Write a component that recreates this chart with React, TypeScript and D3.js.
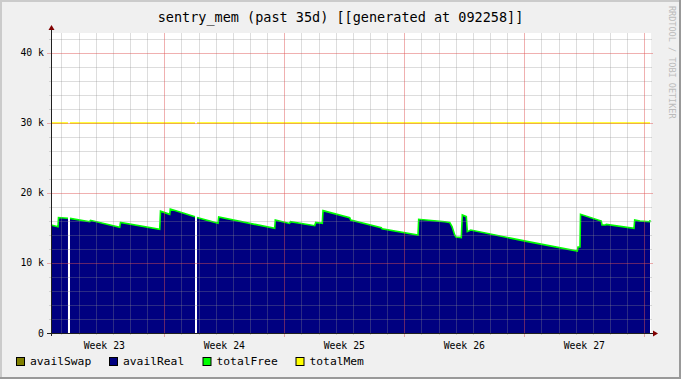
import React from 'react';
import * as d3 from 'd3';

const W = 681;
const H = 379;
const TITLE = 'sentry_mem (past 35d) [[generated at 092258]]';
const CREDIT = 'RRDTOOL / TOBI OETIKER';
const END_TIME = new Date(2009, 6, 6, 9, 22, 58);
const SPAN_DAYS = 35;

// days since window start
const DAYS = [
  0, 0.408, 0.4375, 0.99, 1.05, 1.108, 2.258, 2.304, 4.008, 4.054, 6.341, 6.3875, 6.924, 6.959, 8.4,
  8.46, 8.517, 9.742, 9.7825, 13.049, 13.084, 13.913, 13.971, 15.383, 15.441, 15.826, 15.867, 17.424,
  17.4825, 19.268, 19.308, 21.408, 21.449, 22.966, 23.258, 23.392, 23.549, 23.625, 23.934, 23.993,
  24.226, 24.284, 24.483, 27.825, 30.701, 30.742, 30.858, 30.888, 32.1, 32.142, 32.346, 32.393,
  34.008, 34.049, 34.358, 34.924, 34.942,
];
const AVAIL_REAL: (number | null)[] = [
  15430, 15190, 16500, 16400, null, 16380, 15900, 16100, 15100, 15800, 14800, 17400, 16950, 17700, 16600,
  null, 16500, 15670, 16570, 14950, 16140, 15650, 15900, 15330, 15800, 15670, 17480, 16480,
  16140, 15050, 14900, 14000, 16240, 15900, 15800, 15200, 14000, 13700, 13620, 16860,
  16620, 14480, 14710, 13050, 11710, 12290, 12290, 16950, 16000, 15430, 15430, 15520,
  14950, 16140, 16000, 15900, 16140,
];
const AVAIL_SWAP: (number | null)[] = AVAIL_REAL.map((v) => (v === null ? null : 0));
const TOTAL_FREE: (number | null)[] = [
  15430, 15190, 16500, 16400, null, 16380, 15900, 16100, 15100, 15800, 14800, 17400, 16950, 17700, 16600,
  null, 16500, 15670, 16570, 14950, 16140, 15650, 15900, 15330, 15800, 15670, 17480, 16480,
  16140, 15050, 14900, 14000, 16240, 15900, 15800, 15200, 14000, 13700, 13620, 16860,
  16620, 14480, 14710, 13050, 11710, 12290, 12290, 16950, 16000, 15430, 15430, 15520,
  14950, 16140, 16000, 15900, 16140,
];
const TOTAL_MEM: (number | null)[] = AVAIL_REAL.map((v) => (v === null ? null : 30000));

const Y_MAX = 42857;
const Y_MAJOR = [0, 10000, 20000, 30000, 40000];
const Y_LABELS = ['0', '10 k', '20 k', '30 k', '40 k'];
const Y_MINOR_STEP = 2000;

const LEGEND_NAMES = ['availSwap', 'availReal', 'totalFree', 'totalMem'];
const LEGEND_COLORS = ['#808000', '#000080', '#00ff00', '#ffff00'];
const LEGEND_X = [16, 109, 202.5, 295.5];

const FONT = "'DejaVu Sans Mono', monospace";

export default function App() {
  const left = 51, right = 651, top = 33, bottom = 333;
  const start = d3.timeDay.offset(END_TIME, -SPAN_DAYS);
  const x = d3.scaleTime().domain([start, END_TIME]).range([left, right]);
  const y = d3.scaleLinear().domain([0, Y_MAX]).range([bottom, top]);
  const t = (d: number) => new Date(start.getTime() + d * 86400000);

  const pts = DAYS.map((d, i) => ({ d, real: AVAIL_REAL[i], free: TOTAL_FREE[i], mem: TOTAL_MEM[i], swap: AVAIL_SWAP[i] }));
  const area = d3
    .area<any>()
    .defined((p) => p.real !== null)
    .x((p) => x(t(p.d)))
    .y0(() => y(0))
    .y1((p) => y(p.real));
  const lineFree = d3
    .line<any>()
    .defined((p) => p.free !== null)
    .x((p) => x(t(p.d)))
    .y((p) => y(p.free));
  const lineMem = d3
    .line<any>()
    .defined((p) => p.mem !== null)
    .x((p) => x(t(p.d)))
    .y((p) => y(p.mem));

  const days = d3.timeDay.range(d3.timeDay.ceil(start), END_TIME);
  const mondays = d3.timeMonday.range(d3.timeMonday.ceil(start), END_TIME);
  const weekStarts = d3.timeMonday.range(d3.timeMonday.floor(start), END_TIME);
  const weekFmt = d3.timeFormat('Week %V');
  const weekLabels = weekStarts
    .map((m) => ({ m, c: new Date(m.getTime() + 3.5 * 86400000) }))
    .filter((o) => o.c >= start && o.c <= END_TIME);

  const yMinor = d3.range(0, Y_MAX, Y_MINOR_STEP).filter((v) => v % 10000 !== 0);
  const isMonday = (d: Date) => mondays.some((m) => m.getTime() === d.getTime());

  const minorStroke = 'rgba(143,143,143,0.3)';
  const majorStroke = 'rgba(222,79,79,0.45)';

  return (
    <svg width={W} height={H} style={{ position: 'absolute', left: 0, top: 0, display: 'block' }}>
      <rect x={0} y={0} width={W} height={H} fill="#f0f0f0" />
      {/* frame */}
      <rect x={0} y={0} width={W} height={2} fill="#cbcbcb" />
      <rect x={0} y={0} width={2} height={H} fill="#cbcbcb" />
      <rect x={0} y={H - 2} width={W} height={2} fill="#999999" />
      <rect x={W - 2} y={0} width={2} height={H} fill="#999999" />

      <text x={W / 2} y={22} textAnchor="middle" fontFamily={FONT} fontSize={13.5} fill="#000">
        {TITLE}
      </text>
      <text
        transform={`translate(669,6) rotate(90)`}
        fontFamily={FONT}
        fontSize={8.5}
        fill="#bbbbbb"
      >
        {CREDIT}
      </text>

      <rect x={left} y={top} width={right - left} height={bottom - top} fill="#ffffff" />

      <path d={area(pts) || ''} fill={LEGEND_COLORS[1]} />
      <path d={lineFree(pts) || ''} fill="none" stroke={LEGEND_COLORS[2]} strokeWidth={1.6} />
      <path d={lineMem(pts) || ''} fill="none" stroke={LEGEND_COLORS[3]} strokeWidth={1.4} />

      {/* minor grid */}
      {yMinor.map((v) => (
        <line key={'hy' + v} x1={left - 2} x2={right + 1} y1={Math.round(y(v)) + 0.5} y2={Math.round(y(v)) + 0.5} stroke={minorStroke} />
      ))}
      {days
        .filter((d) => !isMonday(d))
        .map((d) => (
          <line key={'vx' + d.getTime()} x1={Math.round(x(d)) + 0.5} x2={Math.round(x(d)) + 0.5} y1={top} y2={bottom + 2} stroke={minorStroke} />
        ))}
      {/* major grid */}
      {Y_MAJOR.filter((v) => v > 0).map((v) => (
        <line key={'My' + v} x1={left - 4} x2={right + 2} y1={Math.round(y(v)) + 0.5} y2={Math.round(y(v)) + 0.5} stroke={majorStroke} />
      ))}
      {mondays.map((d) => (
        <line key={'Mx' + d.getTime()} x1={Math.round(x(d)) + 0.5} x2={Math.round(x(d)) + 0.5} y1={top} y2={bottom + 4} stroke={majorStroke} />
      ))}

      {/* axes */}
      <line x1={left - 4} x2={right + 3} y1={bottom + 0.5} y2={bottom + 0.5} stroke="#202020" />
      <line x1={left + 0.5} x2={left + 0.5} y1={bottom + 3} y2={top - 4} stroke="#202020" />
      <line x1={left - 4} x2={left} y1={bottom + 0.5} y2={bottom + 0.5} stroke="#202020" />
      <path d={`M${right + 7},${bottom + 0.5} L${right + 2},${bottom - 2.5} L${right + 2},${bottom + 3.5} Z`} fill="#800000" />
      <path d={`M${left + 0.5},${top - 8} L${left - 2.5},${top - 3} L${left + 3.5},${top - 3} Z`} fill="#800000" />

      {/* y labels */}
      {Y_MAJOR.map((v, i) => (
        <text key={'yl' + v} x={44} y={y(v) + 3.5} textAnchor="end" fontFamily={FONT} fontSize={9.8} fill="#000">
          {Y_LABELS[i]}
        </text>
      ))}
      {/* week labels */}
      {weekLabels.map((o) => (
        <text key={'wl' + o.m.getTime()} x={x(o.c)} y={348.5} textAnchor="middle" fontFamily={FONT} fontSize={9.8} fill="#000">
          {weekFmt(o.m)}
        </text>
      ))}

      {/* legend */}
      {LEGEND_NAMES.map((n, i) => (
        <g key={n}>
          <rect x={LEGEND_X[i] + 0.5} y={357.5} width={8} height={8} fill={LEGEND_COLORS[i]} stroke="#000" strokeWidth={1} />
          <text x={LEGEND_X[i] + 14} y={365} fontFamily={FONT} fontSize={11.3} fill="#000">
            {n}
          </text>
        </g>
      ))}
    </svg>
  );
}
